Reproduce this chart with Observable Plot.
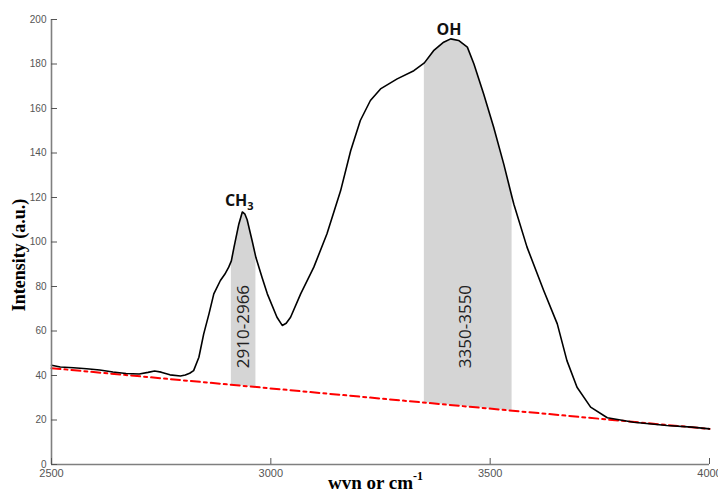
<!DOCTYPE html>
<html><head><meta charset="utf-8">
<script src="https://cdn.jsdelivr.net/npm/d3@7"></script>
<script src="https://cdn.jsdelivr.net/npm/@observablehq/plot@0.6"></script>
<style>body{margin:0;background:#fff}#chart{width:718px;height:490px}</style>
</head><body><div id="chart"></div>
<script>
const wavenumber = [2500,2520,2550,2580,2610,2640,2670,2700,2720,2735,2750,2770,2794,2805,2815,2824,2836,2847,2859,2870,2885,2895,2904,2910,2916,2927,2935,2941,2946,2958,2966,2980,2992,3014,3026,3035,3045,3068,3098,3128,3159,3182,3204,3227,3250,3288,3326,3350,3371,3394,3410,3428,3448,3463,3485,3508,3531,3550,3554,3584,3622,3653,3675,3698,3729,3767,3827,3903,3960,4000];
const intensity = [44.6,43.8,43.5,43,42.5,41.6,40.9,40.7,41.4,42,41.5,40.3,39.8,40.2,41,42.2,48.2,58.7,67.7,76.7,82.7,85.5,88.7,91.5,97.6,108,113.5,112.5,110,100,93,84,76.7,66.2,62.5,63.5,66.2,76.7,88.7,103.7,123,141,154.6,163.6,168.8,173.3,177,180.5,186,189.8,191.3,190.6,187.6,180,166.6,151.6,135,120,117,97.7,78.2,63.2,46.7,34.7,25.8,21,19,17.5,16.8,16];
const baselineX = [2500, 4000];
const baselineY = [43.3, 16];
const bandStart = [2910, 3350];
const bandEnd = [2966, 3550];
const bandLabels = ["2910-2966", "3350-3550"];
const bandLabelX = [2937, 3445];
const bandLabelY = [62, 62];
const peakLabels = ["CH", "OH"];
const peakSubs = ["3", ""];
const peakX = [2928, 3406];
const peakY = [116, 193];
const xTicks = [2500, 3000, 3500, 4000];
const yTicks = [0, 20, 40, 60, 80, 100, 120, 140, 160, 180, 200];

const spectrum = wavenumber.map((x, i) => ({x, y: intensity[i]}));
const baseline = baselineX.map((x, i) => ({x, y: baselineY[i]}));
const baseAt = d3.scaleLinear().domain(baselineX).range(baselineY);
const bandData = bandStart.flatMap((lo, b) =>
  spectrum.filter(d => d.x >= lo && d.x <= bandEnd[b]).map(d => ({band: b, x: d.x, y1: baseAt(d.x), y2: d.y})));
const bandText = bandLabels.map((t, i) => ({t, x: bandLabelX[i], y: bandLabelY[i]}));
const peakText = peakLabels.map((t, i) => ({t, x: peakX[i], y: peakY[i]}));

const axisColor = "#7f7f7f";
const chart = Plot.plot({
  width: 718, height: 490,
  marginTop: 19, marginBottom: 26, marginLeft: 51, marginRight: 9,
  style: {background: "#fff", overflow: "visible"},
  x: {domain: [2500, 4000]},
  y: {domain: [0, 200]},
  marks: [
    Plot.areaY(bandData, {x: "x", y1: "y1", y2: "y2", z: "band", fill: "#d5d5d5"}),
    Plot.line(baseline, {x: "x", y: "y", stroke: "#ff0000", strokeWidth: 2, strokeDasharray: "9,4,3,4"}),
    Plot.line(spectrum, {x: "x", y: "y", stroke: "#000", strokeWidth: 1.6}),
    Plot.ruleY([0], {stroke: axisColor, strokeWidth: 1.6}),
    Plot.ruleX([2500], {stroke: axisColor, strokeWidth: 1.6}),
    Plot.axisX({ticks: xTicks, tickSize: -6, tickPadding: 11, tickFormat: d => String(d), label: null,
      color: "#555", fontSize: 11, fontFamily: "Liberation Sans, Arial, sans-serif"}),
    Plot.axisY({ticks: yTicks, tickSize: -6, tickPadding: 11, tickFormat: d => String(d), label: null,
      color: "#555", fontSize: 10, fontFamily: "Liberation Sans, Arial, sans-serif"}),
    Plot.text(bandText, {x: "x", y: "y", text: "t", rotate: -90, fill: "#222",
      fontSize: 17, fontFamily: "Open Sans, sans-serif"}),
    Plot.text(peakText, {x: "x", y: "y", text: "t", lineAnchor: "bottom", fill: "#111",
      fontSize: 16, fontWeight: "bold", fontFamily: "Open Sans, sans-serif"}),
    Plot.text(["Intensity (a.u.)"], {frameAnchor: "left", textAnchor: "middle", rotate: -90, dx: -32, dy: 13,
      fontSize: 18, fontWeight: "bold", fontFamily: "Liberation Serif, Times New Roman, serif", fill: "#000"}),
    Plot.text(["wvn or cm"], {frameAnchor: "bottom", textAnchor: "middle", lineAnchor: "bottom", dx: -5, dy: 24,
      fontSize: 19, fontWeight: "bold", fontFamily: "Liberation Serif, Times New Roman, serif", fill: "#000"})
  ]
});
document.getElementById("chart").appendChild(chart);
const svg = d3.select(chart);
svg.selectAll("text").filter(function(){ return this.textContent === "wvn or cm"; })
  .append("tspan").attr("dy", "-0.75em").attr("font-size", 12).text("-1");
peakLabels.forEach((t, i) => {
  if (!peakSubs[i]) return;
  svg.selectAll("text").filter(function(){ return this.textContent === t; })
    .append("tspan").attr("dy", "0.35em").attr("font-size", 11).text(peakSubs[i]);
});
</script>
</body></html>
